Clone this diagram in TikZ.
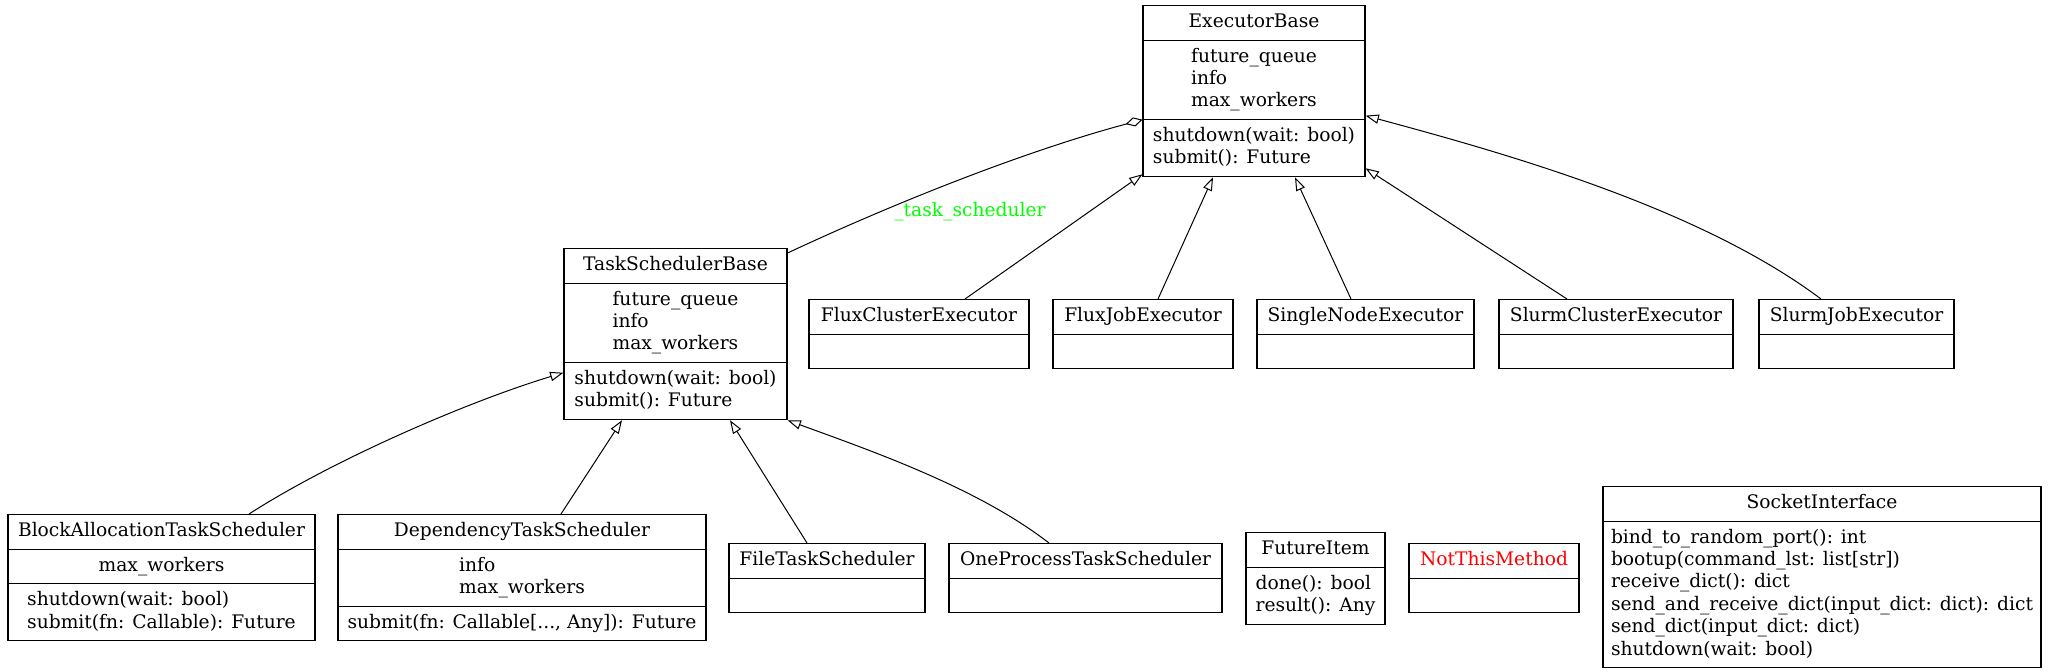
\documentclass[tikz,border=0pt]{standalone}
\usepackage{fontspec}
\setmainfont{DejaVu Serif}
\usetikzlibrary{shapes.multipart,arrows.meta,calc}
\newcommand{\classfont}{\fontsize{14}{16.8}\selectfont}
\newcommand{\rows}[1]{\begin{tabular}{@{}l@{}}#1\end{tabular}}
\definecolor{gvred}{RGB}{255,0,0}
\definecolor{gvgreen}{RGB}{0,255,0}
\tikzset{
umlclass/.style = {draw, line width=0.8pt, rectangle split, rectangle split parts=3, anchor=north, inner xsep=6pt, inner ysep=4.2pt, font=\classfont, rectangle split empty part height=11.76pt, rectangle split empty part depth=5.04pt},
umlplain/.style = {umlclass, rectangle split parts=2},
inherit/.style = {-{Triangle[open, length=10pt, width=7pt]}, line width=0.75pt},
aggregate/.style = {-{Diamond[open, length=13pt, width=7pt]}, line width=0.75pt},
rolelabel/.style = {font=\classfont, text=gvgreen, inner sep=0pt}
}
\begin{document}
\begin{tikzpicture}[x=0.75pt, y=-0.75pt]
		\useasboundingbox (0,0) rectangle (2048,671);
		\node [umlclass, minimum width=166.5pt] (executorbase) at (1254,5) {\rows{ExecutorBase}
			\nodepart{two}\rows{future\_queue\\info\\max\_workers}
			\nodepart{three}\rows{shutdown(wait: bool)\\submit(): Future}};
		\node [umlclass, minimum width=167.25pt] (taskschedulerbase) at (675.5,248) {\rows{TaskSchedulerBase}
			\nodepart{two}\rows{future\_queue\\info\\max\_workers}
			\nodepart{three}\rows{shutdown(wait: bool)\\submit(): Future}};

		\node [umlplain, minimum width=165pt] (fluxcluster) at (919,299) {\rows{FluxClusterExecutor}\nodepart{two}};
		\node [umlplain, minimum width=135pt] (fluxjob) at (1143,299) {\rows{FluxJobExecutor}\nodepart{two}};
		\node [umlplain, minimum width=162.75pt] (singlenode) at (1365.5,299) {\rows{SingleNodeExecutor}\nodepart{two}};
		\node [umlplain, minimum width=175.5pt] (slurmcluster) at (1616,299) {\rows{SlurmClusterExecutor}\nodepart{two}};
		\node [umlplain, minimum width=146.25pt] (slurmjob) at (1856.5,299) {\rows{SlurmJobExecutor}\nodepart{two}};

		\node [umlclass, minimum width=230.25pt] (blockallocation) at (161.5,514) {\rows{BlockAllocationTaskScheduler}
			\nodepart{two}\rows{max\_workers}
			\nodepart{three}\rows{shutdown(wait: bool)\\submit(fn: Callable): Future}};
		\node [umlclass, minimum width=276pt] (dependency) at (522,514) {\rows{DependencyTaskScheduler}
			\nodepart{two}\rows{info\\max\_workers}
			\nodepart{three}\rows{submit(fn: Callable[..., Any]): Future}};
		\node [umlplain, minimum width=147pt] (filetask) at (827,543) {\rows{FileTaskScheduler}\nodepart{two}};
		\node [umlplain, minimum width=204.75pt] (oneprocess) at (1085.5,543) {\rows{OneProcessTaskScheduler}\nodepart{two}};
		\node [umlplain, minimum width=104.25pt] (futureitem) at (1315.5,532) {\rows{FutureItem}
			\nodepart{two}\rows{done(): bool\\result(): Any}};
		\node [umlplain, minimum width=127.5pt] (notthismethod) at (1494,543) {\rows{\textcolor{gvred}{NotThisMethod}}\nodepart{two}};
		\node [umlplain, minimum width=328.5pt] (socketinterface) at (1822,486) {\rows{SocketInterface}
			\nodepart{two}\rows{bind\_to\_random\_port(): int\\bootup(command\_lst: list[str])\\receive\_dict(): dict\\send\_and\_receive\_dict(input\_dict: dict): dict\\send\_dict(input\_dict: dict)\\shutdown(wait: bool)}};

		\draw [aggregate] ($(taskschedulerbase.north east)+(0,5)$) .. controls +(109,-51) and +(-116,31) .. (executorbase.two split west);
		\node [rolelabel] (taskschedulerrole) at (970,212) {\_task\_scheduler};

		\draw [inherit] ($(fluxcluster.north)+(46,0)$) -- ($(executorbase.south west)+(0,-3)$);
		\draw [inherit] ($(fluxjob.north)+(15,0)$) -- ($(executorbase.south)+(-41,0)$);
		\draw [inherit] ($(singlenode.north)+(-14.5,0)$) -- ($(executorbase.south)+(41,0)$);
		\draw [inherit] ($(slurmcluster.north)+(-49,0)$) -- ($(executorbase.south east)+(0,-9)$);
		\draw [inherit] ($(slurmjob.north)+(-35.5,0)$) .. controls +(-120,-90) and +(145,39) .. ($(executorbase.two split east)+(0,-4)$);

		\draw [inherit] ($(blockallocation.north)+(87.5,0)$) .. controls +(84,-54) and +(-96,29) .. ($(taskschedulerbase.two split west)+(0,10)$);
		\draw [inherit] ($(dependency.north)+(39,0)$) -- ($(taskschedulerbase.south)+(-53.5,0)$);
		\draw [inherit] ($(filetask.north)+(-20,0)$) -- ($(taskschedulerbase.south)+(54.5,0)$);
		\draw [inherit] ($(oneprocess.north)+(-36.5,0)$) .. controls +(-71,-55) and +(85,31) .. (taskschedulerbase.south east);
\end{tikzpicture}
\end{document}
